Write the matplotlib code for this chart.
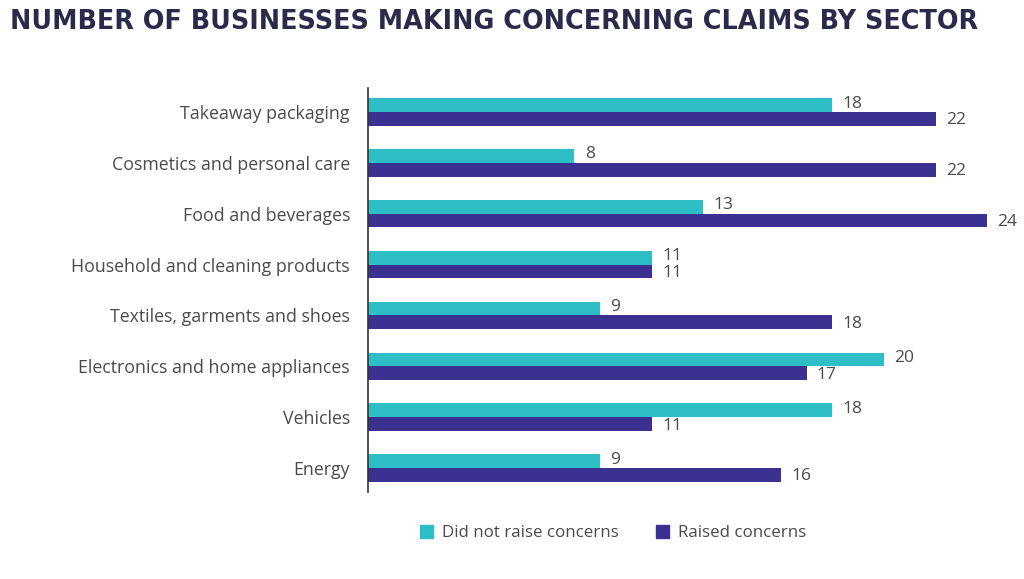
import matplotlib
matplotlib.use("Agg")
import matplotlib.pyplot as plt
from matplotlib.patches import Patch

categories = ["Takeaway packaging", "Cosmetics and personal care", "Food and beverages",
              "Household and cleaning products", "Textiles, garments and shoes",
              "Electronics and home appliances", "Vehicles", "Energy"]
did_not_raise = [18, 8, 13, 11, 9, 20, 18, 9]
raised = [22, 22, 24, 11, 18, 17, 11, 16]
series_names = ["Did not raise concerns", "Raised concerns"]

teal = "#2EBFC6"
purple = "#3B3190"
text_col = "#4A4A4A"

plt.rcParams['font.family'] = ['Open Sans', 'DejaVu Sans']

fig = plt.figure(figsize=(10.24, 5.79), dpi=100)
ax = fig.add_axes([368/1024, 1-492/579, 632/1024, (492-88)/579])

h = 0.27
ys = list(range(len(categories)))
ax.barh([y - h/2 for y in ys], did_not_raise, height=h, color=teal)
ax.barh([y + h/2 for y in ys], raised, height=h, color=purple)

for y, v in zip(ys, did_not_raise):
    ax.text(v + 0.4, y - h/2 - 0.03, str(v), va='center', ha='left', fontsize=12.5, color=text_col)
for y, v in zip(ys, raised):
    ax.text(v + 0.4, y + h/2 + 0.03, str(v), va='center', ha='left', fontsize=12.5, color=text_col)

ax.set_xlim(0, 24.5)
ax.set_ylim(7.47, -0.47)
ax.set_yticks(ys)
ax.set_yticklabels(categories, fontsize=12.8, color=text_col)
ax.tick_params(axis='y', length=0, pad=13)
ax.set_xticks([])
for s in ['top', 'right', 'bottom']:
    ax.spines[s].set_visible(False)
ax.spines['left'].set_color('#333333')
ax.spines['left'].set_linewidth(1.2)

fig.text(10/1024, 1-22/579, "NUMBER OF BUSINESSES MAKING CONCERNING CLAIMS BY SECTOR",
         fontsize=18.4, fontweight='bold', color='#2A2A4A', va='center', ha='left',
         family=['DejaVu Sans'])

handles = [Patch(color=teal), Patch(color=purple)]
fig.legend(handles, series_names, loc='center', bbox_to_anchor=(613/1024, 1-533/579),
           ncol=2, frameon=False, fontsize=12.2, handlelength=0.8, handleheight=0.8,
           columnspacing=2.2, handletextpad=0.5, labelcolor=text_col)

fig.savefig("out.png", dpi=100)
